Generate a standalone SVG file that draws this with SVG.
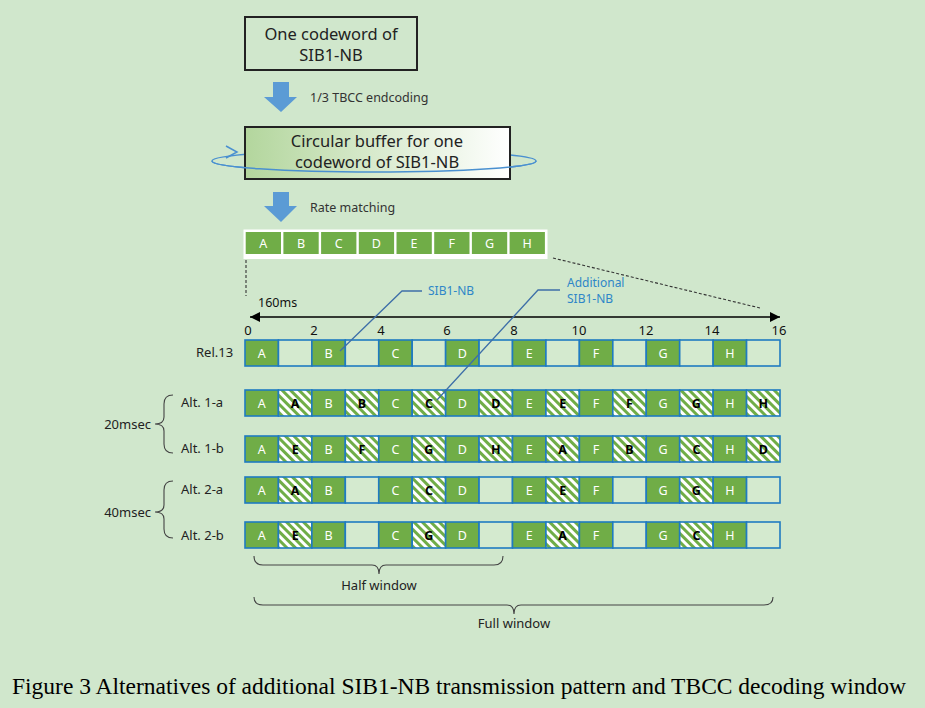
<svg xmlns="http://www.w3.org/2000/svg" width="925" height="708" viewBox="0 0 925 708">
<defs>
<linearGradient id="gbuf" x1="0" y1="0" x2="1" y2="0">
<stop offset="0" stop-color="#b3d69d"/>
<stop offset="1" stop-color="#ffffff"/>
</linearGradient>
<pattern id="hatch" patternUnits="userSpaceOnUse" width="6" height="6" patternTransform="rotate(-45)">
<rect width="6" height="6" fill="#ffffff"/>
<rect width="3" height="6" fill="#70ad47"/>
</pattern>
<marker id="ah" viewBox="0 0 10 10" refX="10" refY="5" markerWidth="10" markerHeight="10" markerUnits="userSpaceOnUse" orient="auto-start-reverse">
<path d="M0,0 L10,5 L0,10 z" fill="#000"/>
</marker>
</defs>
<style>
text{font-family:"Noto Sans","Liberation Sans",sans-serif}
.bg{fill:#d0e7cc}
.box{fill:#d0e7cc;stroke:#222;stroke-width:2}
.arr{fill:#5b9bd5}
.lbl{font-size:12.5px;fill:#333}
.big{font-size:16.5px;fill:#222;text-anchor:middle}
.g{fill:#70ad47;stroke:#1f7bc1;stroke-width:1.6}
.e{fill:#d4eacf;stroke:#1f7bc1;stroke-width:1.6}
.h{fill:url(#hatch);stroke:#1f7bc1;stroke-width:1.6}
.tg{font-size:12.5px;fill:#ffffff;text-anchor:middle}
.th{font-size:12.5px;fill:#000;font-weight:bold;text-anchor:middle}
.tc{fill:#70ad47}
.num{font-size:13px;fill:#111;text-anchor:middle}
.row{font-size:13px;fill:#222}
.brace{fill:none;stroke:#444;stroke-width:1.1}
.dash{fill:none;stroke:#333;stroke-width:1.1;stroke-dasharray:3 2}
.call{fill:none;stroke:#3e6fa8;stroke-width:1.3}
.ctxt{font-size:12px;fill:#2e86c8}
</style>
<rect class="bg" x="0" y="0" width="925" height="708"/>

<g id="codeword">
<rect class="box" x="245" y="17" width="172" height="53"/>
<text class="big" x="331" y="40">One codeword of</text>
<text class="big" x="331" y="61">SIB1-NB</text>
</g>

<g id="arrow-encoding">
<path class="arr" d="M273,82 L289,82 L289,97 L297,97 L281,112 L264,97 L273,97 z"/>
<text class="lbl" x="310" y="102">1/3 TBCC endcoding</text>
</g>

<g id="circular-buffer">
<ellipse cx="374" cy="161" rx="162" ry="11" fill="none" stroke="#4a90d0" stroke-width="1.5"/>
<path d="M226,146 L237,152 L226,158" fill="none" stroke="#4a90d0" stroke-width="1.5"/>
<rect x="245" y="127" width="265" height="52" fill="url(#gbuf)" stroke="#222" stroke-width="2"/>
<path d="M212,161 A162,11 0 0 0 536,161" fill="none" stroke="#4a90d0" stroke-width="1.5"/>
<text class="big" x="377" y="147">Circular buffer for one</text>
<text class="big" x="377" y="168">codeword of SIB1-NB</text>
</g>

<g id="arrow-rate">
<path class="arr" d="M273,192 L289,192 L289,206 L297,206 L281,222 L264,206 L273,206 z"/>
<text class="lbl" x="310" y="212">Rate matching</text>
</g>

<g id="rate-bar">
<rect x="243.5" y="229.5" width="304" height="29.5" fill="#ffffff"/>
<rect class="tc" x="245.7" y="232" width="35.3" height="22"/>
<rect class="tc" x="283.4" y="232" width="35.3" height="22"/>
<rect class="tc" x="321.1" y="232" width="35.3" height="22"/>
<rect class="tc" x="358.8" y="232" width="35.3" height="22"/>
<rect class="tc" x="396.5" y="232" width="35.3" height="22"/>
<rect class="tc" x="434.2" y="232" width="35.3" height="22"/>
<rect class="tc" x="471.9" y="232" width="35.3" height="22"/>
<rect class="tc" x="509.6" y="232" width="35.3" height="22"/>
<text class="tg" x="263.3" y="247.5">A</text>
<text class="tg" x="301" y="247.5">B</text>
<text class="tg" x="338.7" y="247.5">C</text>
<text class="tg" x="376.4" y="247.5">D</text>
<text class="tg" x="414.1" y="247.5">E</text>
<text class="tg" x="451.8" y="247.5">F</text>
<text class="tg" x="489.5" y="247.5">G</text>
<text class="tg" x="527.2" y="247.5">H</text>
</g>

<g id="axis">
<text class="lbl" x="258" y="307" style="fill:#111">160ms</text>
<text class="num" x="248" y="335">0</text>
<text class="num" x="314" y="335">2</text>
<text class="num" x="381" y="335">4</text>
<text class="num" x="447" y="335">6</text>
<text class="num" x="514" y="335">8</text>
<text class="num" x="579" y="335">10</text>
<text class="num" x="646" y="335">12</text>
<text class="num" x="712" y="335">14</text>
<text class="num" x="779" y="335">16</text>
<text class="ctxt" x="428" y="295">SIB1-NB</text>
<text class="ctxt" x="567" y="287">Additional</text>
<text class="ctxt" x="567" y="303">SIB1-NB</text>
</g>

<g id="rel13">
<text class="row" x="196" y="357">Rel.13</text>
<rect class="g" x="245" y="340" width="33.44" height="26"/>
<rect class="e" x="278.44" y="340" width="33.44" height="26"/>
<rect class="g" x="311.88" y="340" width="33.44" height="26"/>
<rect class="e" x="345.31" y="340" width="33.44" height="26"/>
<rect class="g" x="378.75" y="340" width="33.44" height="26"/>
<rect class="e" x="412.19" y="340" width="33.44" height="26"/>
<rect class="g" x="445.63" y="340" width="33.44" height="26"/>
<rect class="e" x="479.06" y="340" width="33.44" height="26"/>
<rect class="g" x="512.5" y="340" width="33.44" height="26"/>
<rect class="e" x="545.94" y="340" width="33.44" height="26"/>
<rect class="g" x="579.38" y="340" width="33.44" height="26"/>
<rect class="e" x="612.81" y="340" width="33.44" height="26"/>
<rect class="g" x="646.25" y="340" width="33.44" height="26"/>
<rect class="e" x="679.69" y="340" width="33.44" height="26"/>
<rect class="g" x="713.13" y="340" width="33.44" height="26"/>
<rect class="e" x="746.56" y="340" width="33.44" height="26"/>
<text class="tg" x="261.7" y="358">A</text>
<text class="tg" x="328.6" y="358">B</text>
<text class="tg" x="395.5" y="358">C</text>
<text class="tg" x="462.3" y="358">D</text>
<text class="tg" x="529.2" y="358">E</text>
<text class="tg" x="596.1" y="358">F</text>
<text class="tg" x="663" y="358">G</text>
<text class="tg" x="729.8" y="358">H</text>
</g>

<g id="alt1a">
<text class="row" x="181" y="407">Alt. 1-a</text>
<rect class="g" x="245" y="390" width="33.44" height="26"/>
<rect class="h" x="278.44" y="390" width="33.44" height="26"/>
<rect class="g" x="311.88" y="390" width="33.44" height="26"/>
<rect class="h" x="345.31" y="390" width="33.44" height="26"/>
<rect class="g" x="378.75" y="390" width="33.44" height="26"/>
<rect class="h" x="412.19" y="390" width="33.44" height="26"/>
<rect class="g" x="445.63" y="390" width="33.44" height="26"/>
<rect class="h" x="479.06" y="390" width="33.44" height="26"/>
<rect class="g" x="512.5" y="390" width="33.44" height="26"/>
<rect class="h" x="545.94" y="390" width="33.44" height="26"/>
<rect class="g" x="579.38" y="390" width="33.44" height="26"/>
<rect class="h" x="612.81" y="390" width="33.44" height="26"/>
<rect class="g" x="646.25" y="390" width="33.44" height="26"/>
<rect class="h" x="679.69" y="390" width="33.44" height="26"/>
<rect class="g" x="713.13" y="390" width="33.44" height="26"/>
<rect class="h" x="746.56" y="390" width="33.44" height="26"/>
<text class="tg" x="261.7" y="408">A</text>
<text class="th" x="295.2" y="408">A</text>
<text class="tg" x="328.6" y="408">B</text>
<text class="th" x="362" y="408">B</text>
<text class="tg" x="395.5" y="408">C</text>
<text class="th" x="428.9" y="408">C</text>
<text class="tg" x="462.3" y="408">D</text>
<text class="th" x="495.8" y="408">D</text>
<text class="tg" x="529.2" y="408">E</text>
<text class="th" x="562.7" y="408">E</text>
<text class="tg" x="596.1" y="408">F</text>
<text class="th" x="629.5" y="408">F</text>
<text class="tg" x="663" y="408">G</text>
<text class="th" x="696.4" y="408">G</text>
<text class="tg" x="729.8" y="408">H</text>
<text class="th" x="763.3" y="408">H</text>
</g>

<g id="alt1b">
<text class="row" x="181" y="453">Alt. 1-b</text>
<rect class="g" x="245" y="436" width="33.44" height="26"/>
<rect class="h" x="278.44" y="436" width="33.44" height="26"/>
<rect class="g" x="311.88" y="436" width="33.44" height="26"/>
<rect class="h" x="345.31" y="436" width="33.44" height="26"/>
<rect class="g" x="378.75" y="436" width="33.44" height="26"/>
<rect class="h" x="412.19" y="436" width="33.44" height="26"/>
<rect class="g" x="445.63" y="436" width="33.44" height="26"/>
<rect class="h" x="479.06" y="436" width="33.44" height="26"/>
<rect class="g" x="512.5" y="436" width="33.44" height="26"/>
<rect class="h" x="545.94" y="436" width="33.44" height="26"/>
<rect class="g" x="579.38" y="436" width="33.44" height="26"/>
<rect class="h" x="612.81" y="436" width="33.44" height="26"/>
<rect class="g" x="646.25" y="436" width="33.44" height="26"/>
<rect class="h" x="679.69" y="436" width="33.44" height="26"/>
<rect class="g" x="713.13" y="436" width="33.44" height="26"/>
<rect class="h" x="746.56" y="436" width="33.44" height="26"/>
<text class="tg" x="261.7" y="454">A</text>
<text class="th" x="295.2" y="454">E</text>
<text class="tg" x="328.6" y="454">B</text>
<text class="th" x="362" y="454">F</text>
<text class="tg" x="395.5" y="454">C</text>
<text class="th" x="428.9" y="454">G</text>
<text class="tg" x="462.3" y="454">D</text>
<text class="th" x="495.8" y="454">H</text>
<text class="tg" x="529.2" y="454">E</text>
<text class="th" x="562.7" y="454">A</text>
<text class="tg" x="596.1" y="454">F</text>
<text class="th" x="629.5" y="454">B</text>
<text class="tg" x="663" y="454">G</text>
<text class="th" x="696.4" y="454">C</text>
<text class="tg" x="729.8" y="454">H</text>
<text class="th" x="763.3" y="454">D</text>
</g>

<g id="alt2a">
<text class="row" x="181" y="494">Alt. 2-a</text>
<rect class="g" x="245" y="477" width="33.44" height="26"/>
<rect class="h" x="278.44" y="477" width="33.44" height="26"/>
<rect class="g" x="311.88" y="477" width="33.44" height="26"/>
<rect class="e" x="345.31" y="477" width="33.44" height="26"/>
<rect class="g" x="378.75" y="477" width="33.44" height="26"/>
<rect class="h" x="412.19" y="477" width="33.44" height="26"/>
<rect class="g" x="445.63" y="477" width="33.44" height="26"/>
<rect class="e" x="479.06" y="477" width="33.44" height="26"/>
<rect class="g" x="512.5" y="477" width="33.44" height="26"/>
<rect class="h" x="545.94" y="477" width="33.44" height="26"/>
<rect class="g" x="579.38" y="477" width="33.44" height="26"/>
<rect class="e" x="612.81" y="477" width="33.44" height="26"/>
<rect class="g" x="646.25" y="477" width="33.44" height="26"/>
<rect class="h" x="679.69" y="477" width="33.44" height="26"/>
<rect class="g" x="713.13" y="477" width="33.44" height="26"/>
<rect class="e" x="746.56" y="477" width="33.44" height="26"/>
<text class="tg" x="261.7" y="495">A</text>
<text class="th" x="295.2" y="495">A</text>
<text class="tg" x="328.6" y="495">B</text>
<text class="tg" x="395.5" y="495">C</text>
<text class="th" x="428.9" y="495">C</text>
<text class="tg" x="462.3" y="495">D</text>
<text class="tg" x="529.2" y="495">E</text>
<text class="th" x="562.7" y="495">E</text>
<text class="tg" x="596.1" y="495">F</text>
<text class="tg" x="663" y="495">G</text>
<text class="th" x="696.4" y="495">G</text>
<text class="tg" x="729.8" y="495">H</text>
</g>

<g id="alt2b">
<text class="row" x="181" y="540">Alt. 2-b</text>
<rect class="g" x="245" y="522" width="33.44" height="26"/>
<rect class="h" x="278.44" y="522" width="33.44" height="26"/>
<rect class="g" x="311.88" y="522" width="33.44" height="26"/>
<rect class="e" x="345.31" y="522" width="33.44" height="26"/>
<rect class="g" x="378.75" y="522" width="33.44" height="26"/>
<rect class="h" x="412.19" y="522" width="33.44" height="26"/>
<rect class="g" x="445.63" y="522" width="33.44" height="26"/>
<rect class="e" x="479.06" y="522" width="33.44" height="26"/>
<rect class="g" x="512.5" y="522" width="33.44" height="26"/>
<rect class="h" x="545.94" y="522" width="33.44" height="26"/>
<rect class="g" x="579.38" y="522" width="33.44" height="26"/>
<rect class="e" x="612.81" y="522" width="33.44" height="26"/>
<rect class="g" x="646.25" y="522" width="33.44" height="26"/>
<rect class="h" x="679.69" y="522" width="33.44" height="26"/>
<rect class="g" x="713.13" y="522" width="33.44" height="26"/>
<rect class="e" x="746.56" y="522" width="33.44" height="26"/>
<text class="tg" x="261.7" y="540">A</text>
<text class="th" x="295.2" y="540">E</text>
<text class="tg" x="328.6" y="540">B</text>
<text class="tg" x="395.5" y="540">C</text>
<text class="th" x="428.9" y="540">G</text>
<text class="tg" x="462.3" y="540">D</text>
<text class="tg" x="529.2" y="540">E</text>
<text class="th" x="562.7" y="540">A</text>
<text class="tg" x="596.1" y="540">F</text>
<text class="tg" x="663" y="540">G</text>
<text class="th" x="696.4" y="540">C</text>
<text class="tg" x="729.8" y="540">H</text>
</g>

<g id="connectors">
<path class="dash" d="M246,260 L246,296"/>
<path class="dash" d="M553,258 L760,308"/>
<path d="M250,317 L780,317" stroke="#000" stroke-width="1.3" marker-start="url(#ah)" marker-end="url(#ah)"/>
<path class="call" d="M340,351 L402,291 L422,291"/>
<path class="call" d="M437,400 L538,290 L560,290"/>
</g>

<g id="group-20msec">
<path class="brace" d="M173,395 Q164,395 164,404 L164,417 Q164,424 155,424 Q164,424 164,431 L164,444 Q164,453 173,453"/>
<text class="row" x="151" y="429" text-anchor="end">20msec</text>
</g>
<g id="group-40msec">
<path class="brace" d="M173,481 Q164,481 164,490 L164,505 Q164,512 155,512 Q164,512 164,519 L164,529 Q164,538 173,538"/>
<text class="row" x="151" y="517" text-anchor="end">40msec</text>
</g>

<g id="half-window">
<path class="brace" d="M254,556 Q254,565 263,565 L372,565 Q379,565 379,574 Q379,565 386,565 L494,565 Q503,565 503,556"/>
<text class="row" x="379" y="590" text-anchor="middle">Half window</text>
</g>
<g id="full-window">
<path class="brace" d="M254,597 Q254,605 263,605 L507,605 Q514,605 514,614 Q514,605 521,605 L764,605 Q773,605 773,597"/>
<text class="row" x="514" y="628" text-anchor="middle">Full window</text>
</g>

<text x="12" y="694" font-size="23" textLength="894" lengthAdjust="spacingAndGlyphs" style="font-family:'Liberation Serif','Times New Roman',serif;fill:#000">Figure 3 Alternatives of additional SIB1-NB transmission pattern and TBCC decoding window</text>
</svg>
